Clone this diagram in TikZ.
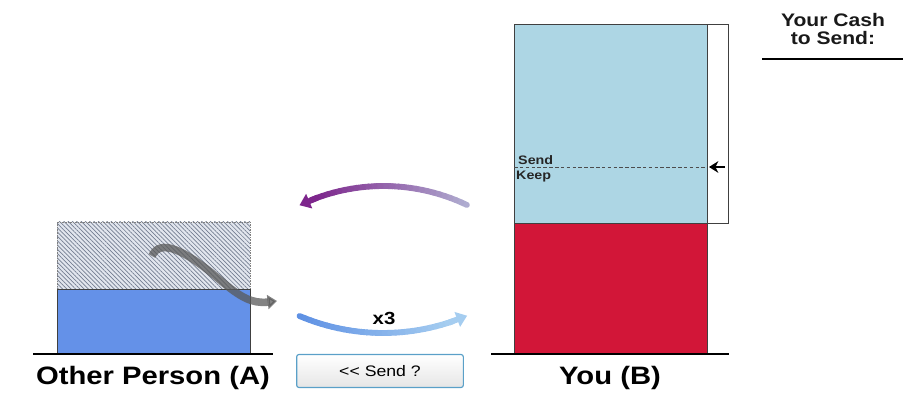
\documentclass[tikz,border=0pt]{standalone}
\usepackage{fontspec}
\setmainfont{Liberation Sans}
\usepackage{graphicx}
\usepackage{tikz}
\usetikzlibrary{arrows.meta,patterns.meta,positioning,calc}
\definecolor{barblue}{RGB}{100,145,232}
\definecolor{barsky}{RGB}{173,214,228}
\definecolor{barred}{RGB}{210,22,56}
\definecolor{hatchbg}{RGB}{226,230,238}
\definecolor{hatchline}{RGB}{115,125,145}
\definecolor{arcpurple}{RGB}{125,38,140}
\definecolor{arclavender}{RGB}{175,172,208}
\definecolor{arcblue}{RGB}{95,145,228}
\definecolor{arclight}{RGB}{165,205,240}
\definecolor{btnborder}{RGB}{90,160,200}
\newcommand\stretchtext[1]{\scalebox{1.16}[1]{#1}}

\begin{document}
\begin{tikzpicture}[x=0.03cm, y=-0.03cm,
  ground/.style={line width=2.2pt},
  bar/.style={draw=black!75, line width=0.6pt},
  biglabel/.style={font=\bfseries\fontsize{21.5}{24}\selectfont},
  cashlabel/.style={font=\bfseries\fontsize{15.5}{15}\selectfont,
                    align=center, text=black!90},
  small/.style={font=\bfseries\fontsize{10.5}{11}\selectfont, anchor=west,
                inner sep=0pt, text=black!85},
  arcline/.style={line width=5pt, line cap=round},
  btn/.style={draw=btnborder, line width=1pt, rounded corners=2pt,
              top color=white, bottom color=gray!20,
              minimum width=5cm, minimum height=0.99cm,
              font=\fontsize{13}{15}\selectfont},
]
\useasboundingbox (0,0) rectangle (905,403);

% other person (A)
\fill[hatchbg] (57,222) rectangle (250,289);
\fill[pattern={Lines[angle=-45,distance=2.6pt,line width=0.6pt]},
      pattern color=hatchline] (57,222) rectangle (250,289);
\draw[densely dotted, gray] (57,222) rectangle (250,289);
\filldraw[bar, fill=barblue] (57,289) rectangle (250,354);
\draw[ground] (33,354) -- (273,354);
\node[biglabel] (labA) at (153,378) {\stretchtext{Other Person (A)}};
\draw[line width=6.5pt, black!65, opacity=0.75,
      -{Triangle[length=8pt,width=12pt]}]
  (152,256) .. controls (160,238) and (185,250) .. (220,280)
            .. controls (240,297) and (252,304) .. (277,301);

% you (B)
\filldraw[bar, fill=barsky] (514,24) rectangle (707,223);
\filldraw[bar, fill=barred] (514,223) rectangle (707,354);
\draw[bar, fill=white] (707,24) rectangle (728,223);
\draw[ground] (491,354) -- (729,354);
\node[biglabel] (labB) at (610,378) {\stretchtext{You (B)}};
\draw[densely dashed, black!70, line width=0.5pt] (514,167) -- (707,167);
\node[small] (send) at (518,160) {\stretchtext{Send}};
\node[small] (keep) at (516,177) {\stretchtext{Keep}};
\coordinate (mark) at (725,167);
\coordinate (cut) at (709,167);
\draw[line width=2pt, -{Stealth[length=8pt,width=10pt]}] (mark) -- (cut);

% cash to send
\node[cashlabel] (cash) at (833,29) {\stretchtext{Your Cash}\\\stretchtext{to Send:}};
\draw[ground] (762,59) -- (903,59);

% purple arc, B to A
\foreach \k in {0,...,26}{
  \pgfmathsetmacro\aa{64.4+\k*1.763}
  \pgfmathsetmacro\ab{\aa+1.763}
  \pgfmathtruncatemacro\p{100*\k/26}
  \draw[arcline, arcpurple!\p!arclavender]
    ({383.5+193*cos(\aa)},{379-193*sin(\aa)})
    -- ({383.5+193*cos(\ab)},{379-193*sin(\ab)});
}
\draw[arcline, line cap=butt, arcpurple, -{Triangle[length=9pt,width=13pt]}]
  ({383.5+193*cos(110)},{379-193*sin(110)})
  -- ({383.5+193*cos(115.8)},{379-193*sin(115.8)});

% blue arc, A to B
\foreach \k in {0,...,26}{
  \pgfmathsetmacro\aa{113-\k*1.556}
  \pgfmathsetmacro\ab{\aa-1.556}
  \pgfmathtruncatemacro\p{100*\k/26}
  \draw[arcline, arclight!\p!arcblue]
    ({383+213.6*cos(\aa)},{119.4+213.6*sin(\aa)})
    -- ({383+213.6*cos(\ab)},{119.4+213.6*sin(\ab)});
}
\draw[arcline, line cap=butt, arclight, -{Triangle[length=9pt,width=13pt]}]
  ({383+213.6*cos(72)},{119.4+213.6*sin(72)})
  -- ({383+213.6*cos(66.8)},{119.4+213.6*sin(66.8)});
\node[font=\bfseries\fontsize{15}{17}\selectfont] (times) at (384,318) {\stretchtext{x3}};

\node[btn] (ask) at (380,371) {\stretchtext{{<}{<} Send ?}};
\end{tikzpicture}
\end{document}
